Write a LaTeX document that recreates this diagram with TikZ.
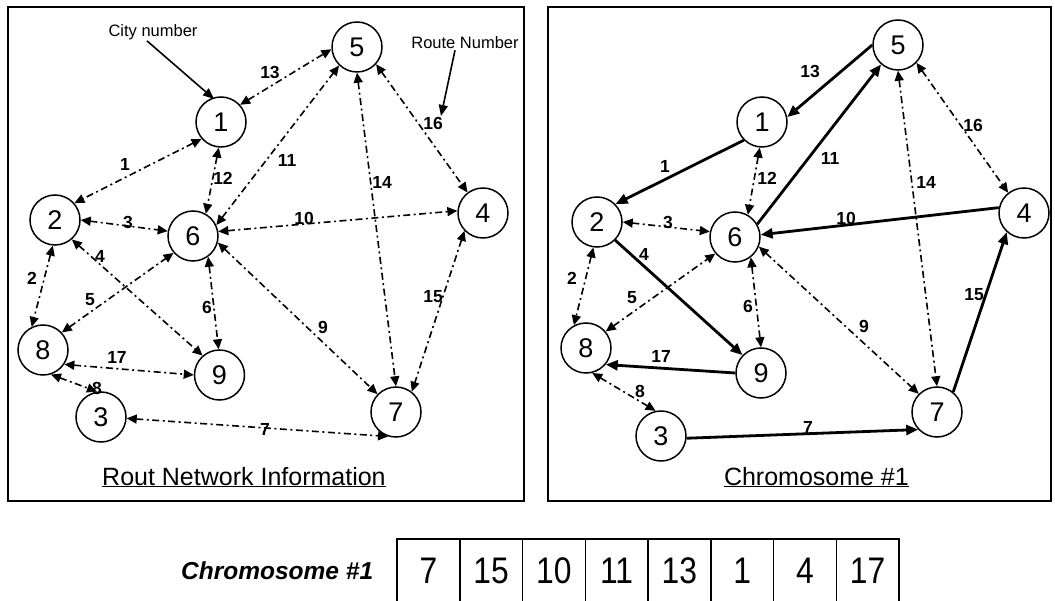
\documentclass[tikz,border=0pt]{standalone}
\usepackage{fontspec}
\usepackage{graphicx}
\setmainfont{Liberation Sans}
\usetikzlibrary{arrows.meta}
\begin{document}
\begin{tikzpicture}[x=1pt,y=-1pt,
 city/.style={circle,draw,line width=1.5pt,minimum size=50pt,inner sep=0pt,font=\fontsize{27}{27}\selectfont},
 dd/.style={line width=1.6pt,dash pattern=on 7pt off 3.5pt on 2pt off 3.5pt,{Triangle[length=10pt,width=9pt]}-{Triangle[length=10pt,width=9pt]}},
 route/.style={line width=2.8pt,-{Triangle[length=12pt,width=10pt]}},
 elab/.style={font=\fontsize{17.5}{17.5}\selectfont\bfseries,inner sep=0pt},
 annot/.style={line width=1.6pt,-{Triangle[length=11pt,width=9pt]}},
 frame/.style={line width=1.8pt},
 annotext/.style={font=\fontsize{16.5}{16.5}\selectfont,inner sep=1pt},
 ptitle/.style={font=\fontsize{25}{25}\selectfont,inner sep=0pt},
 cell/.style={draw,line width=1.5pt,minimum width=62.75pt,minimum height=63pt,inner sep=0pt,font=\fontsize{37}{37}\selectfont},
 ]
\useasboundingbox (0,0) rectangle (1055,601);

% frames
\draw[frame] (8,7) rectangle (524,501);
\draw[frame] (548,7) rectangle (1051,501);

% ---------- left panel ----------
\node[city] (a1) at (221,122) {1};
\node[city] (a2) at (55,220) {2};
\node[city] (a3) at (101,417) {3};
\node[city] (a4) at (483,213) {4};
\node[city] (a5) at (357,47) {5};
\node[city] (a6) at (193,236) {6};
\node[city] (a7) at (396,412) {7};
\node[city] (a8) at (43,350) {8};
\node[city] (a9) at (219.5,375) {9};

\draw[dd] (a1.221) -- (a2.41);
\draw[dd] (a2.265) -- (a8.116);
\draw[dd] (a2.0) -- (a6.169);
\draw[dd] (a2.311) -- (a9.131);
\draw[dd] (a8.43) -- (a6.221);
\draw[dd] (a6.306) -- (a9.92);
\draw[dd] (a3.-3) -- (a7.252);
\draw[dd] (a8.288) -- (a3.99);
\draw[dd] (a6.-15) -- (a7.136);
\draw[dd] (a6.10) -- (a4.175);
\draw[dd] (a6.25) -- (a5.226);
\draw[dd] (a1.265) -- (a6.60);
\draw[dd] (a1.42) -- (a5.185);
\draw[dd] (a5.270) -- (a7.90);
\draw[dd] (a4.224) -- (a7.52);
\draw[dd] (a5.318) -- (a4.127);
\draw[dd] (a8.326) -- (a9.180);

\node[elab] (la1) at (125,164) {1};
\node[elab] (la2) at (32,278) {2};
\node[elab] (la3) at (128,222) {3};
\node[elab] (la4) at (100,256) {4};
\node[elab] (la5) at (90,300) {5};
\node[elab] (la6) at (207,307) {6};
\node[elab] (la7) at (265,429) {7};
\node[elab] (la8) at (97,388) {8};
\node[elab] (la9) at (323,327) {9};
\node[elab] (la10) at (304,218) {10};
\node[elab] (la11) at (287,160) {11};
\node[elab] (la12) at (223,178) {12};
\node[elab] (la13) at (270,72) {13};
\node[elab] (la14) at (382,182) {14};
\node[elab] (la15) at (433,297) {15};
\node[elab] (la16) at (433,123) {16};
\node[elab] (la17) at (117,357) {17};

\node[annotext] (cityn) at (153,32) {City number};
\coordinate (cityTip) at (214,99);
\draw[annot] ([xshift=-6pt]cityn.south) -- (cityTip);
\node[annotext] (routen) at (465,43) {Route Number};
\coordinate (routeTip) at (441,116);
\draw[annot] ([xshift=-10pt]routen.south) -- (routeTip);

\node[ptitle,anchor=base west] (tl) at (102,485) {\underline{Rout Network Information}};

% ---------- right panel ----------
\node[city] (b1) at (762,122) {1};
\node[city] (b2) at (597,222) {2};
\node[city] (b3) at (661,436) {3};
\node[city] (b4) at (1024,213) {4};
\node[city] (b5) at (898,45) {5};
\node[city] (b6) at (735,237) {6};
\node[city] (b7) at (937,412) {7};
\node[city] (b8) at (586,348) {8};
\node[city] (b9) at (761,373) {9};

\draw[route] (b1.225) -- (b2.44);
\draw[dd] (b2.262) -- (b8.118);
\draw[dd] (b2.0) -- (b6.168);
\draw[route] (b2.315) -- (b9.136);
\draw[dd] (b8.40) -- (b6.220);
\draw[dd] (b6.308) -- (b9.90);
\draw[route] (b3.-5) -- (b7.223);
\draw[dd] (b8.284) -- (b3.102);
\draw[dd] (b6.-22) -- (b7.135);
\draw[route] (b4.168) -- (b6.5);
\draw[route] (b6.30) -- (b5.229);
\draw[dd] (b1.265) -- (b6.60);
\draw[route] (b5.180) -- (b1.11);
\draw[dd] (b5.270) -- (b7.90);
\draw[route] (b7.51) -- (b4.228);
\draw[dd] (b5.316) -- (b4.128);
\draw[route] (b9.180) -- (b8.320);

\node[elab] (lb1) at (665,166) {1};
\node[elab] (lb2) at (572,278) {2};
\node[elab] (lb3) at (668,222) {3};
\node[elab] (lb4) at (644,254) {4};
\node[elab] (lb5) at (632,298) {5};
\node[elab] (lb6) at (748,306) {6};
\node[elab] (lb7) at (808,427) {7};
\node[elab] (lb8) at (640,391) {8};
\node[elab] (lb9) at (864,326) {9};
\node[elab] (lb10) at (846,218) {10};
\node[elab] (lb11) at (830,158) {11};
\node[elab] (lb12) at (767,178) {12};
\node[elab] (lb13) at (810,71) {13};
\node[elab] (lb14) at (926,182) {14};
\node[elab] (lb15) at (974,295) {15};
\node[elab] (lb16) at (973,125) {16};
\node[elab] (lb17) at (661,356) {17};

\node[ptitle,anchor=base east] (tr) at (909,485) {\underline{Chromosome \#1}};

% ---------- chromosome ----------
\node[font=\fontsize{24.5}{24.5}\selectfont\bfseries\itshape,inner sep=0pt,anchor=base west] (chl) at (181,579) {Chromosome \#1};
\foreach \v [count=\i] in {7,15,10,11,13,1,4,17}
  \node[cell] (c\i) at ({397+62.75*(\i-0.5)},570.5) {\scalebox{0.86}[1]{\v}};
\end{tikzpicture}
\end{document}
